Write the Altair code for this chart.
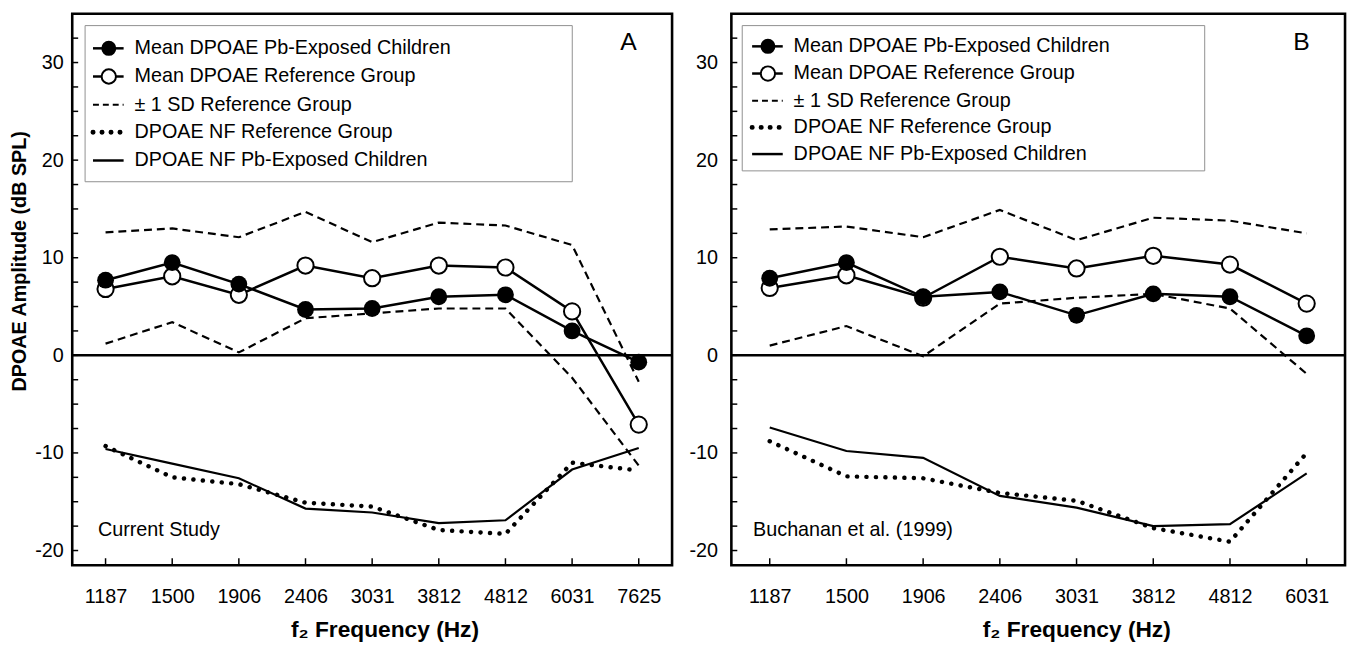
import altair as alt
import pandas as pd

FONT = "Liberation Sans"

# ---------------- data ----------------
freqs_a = ["1187", "1500", "1906", "2406", "3031", "3812", "4812", "6031", "7625"]
pb_mean_a = [7.7, 9.5, 7.3, 4.7, 4.8, 6.0, 6.2, 2.5, -0.7]
ref_mean_a = [6.8, 8.1, 6.2, 9.2, 7.9, 9.2, 9.0, 4.5, -7.1]
sd_upper_a = [12.6, 13.0, 12.1, 14.7, 11.6, 13.6, 13.3, 11.3, -2.7]
sd_lower_a = [1.2, 3.4, 0.3, 3.8, 4.3, 4.8, 4.8, -2.3, -11.3]
nf_ref_a = [-9.3, -12.5, -13.2, -15.1, -15.5, -17.9, -18.3, -11.0, -11.8]
nf_pb_a = [-9.6, -11.1, -12.6, -15.7, -16.1, -17.2, -16.9, -11.7, -9.5]

freqs_b = ["1187", "1500", "1906", "2406", "3031", "3812", "4812", "6031"]
pb_mean_b = [7.9, 9.5, 6.0, 6.5, 4.1, 6.3, 6.0, 2.0]
ref_mean_b = [6.9, 8.2, 5.9, 10.1, 8.9, 10.2, 9.3, 5.3]
sd_upper_b = [12.9, 13.2, 12.1, 14.9, 11.8, 14.1, 13.8, 12.5]
sd_lower_b = [1.0, 3.0, -0.1, 5.3, 5.9, 6.3, 4.8, -1.9]
nf_ref_b = [-8.8, -12.4, -12.6, -14.1, -14.9, -17.7, -19.1, -10.0]
nf_pb_b = [-7.4, -9.8, -10.5, -14.4, -15.6, -17.5, -17.3, -12.1]

y_label_values = [-20, -10, 0, 10, 20, 30]
y_tick_values = [-20, -17.5, -15, -12.5, -10, -7.5, -5, -2.5, 0, 2.5, 5, 7.5,
                 10, 12.5, 15, 17.5, 20, 22.5, 25, 27.5, 30, 32.5]
y_domain = [-21.5, 35]

legend_labels = [
    "Mean DPOAE Pb-Exposed Children",
    "Mean DPOAE Reference Group",
    "± 1 SD Reference Group",
    "DPOAE NF Reference Group",
    "DPOAE NF Pb-Exposed Children",
]

H = 558
DASH = [8, 5]
DOT = [0.1, 9.5]


def legend_layers(box, rows_y):
    one = pd.DataFrame({"k": [0]})
    x0, x1, y0, y1 = box
    layers = [
        alt.Chart(one).mark_rect(fill="white", stroke="#8f8f8f", strokeWidth=1).encode(
            x=alt.value(x0), x2=alt.value(x1), y=alt.value(y0), y2=alt.value(y1)
        )
    ]
    for i, (lab, yy) in enumerate(zip(legend_labels, rows_y)):
        if i == 2:
            kw = dict(strokeDash=[6, 4], strokeWidth=2)
        elif i == 3:
            kw = dict(strokeDash=[0.1, 9], strokeWidth=5, strokeCap="round")
        else:
            kw = dict(strokeWidth=2.5)
        layers.append(
            alt.Chart(one).mark_rule(color="black", **kw).encode(
                x=alt.value(21), x2=alt.value(52), y=alt.value(yy)
            )
        )
        if i == 0:
            layers.append(
                alt.Chart(one).mark_point(shape="circle", filled=True, color="black", size=230, opacity=1).encode(
                    x=alt.value(37), y=alt.value(yy)
                )
            )
        if i == 1:
            layers.append(
                alt.Chart(one).mark_point(shape="circle", filled=True, fill="white", stroke="black",
                                          strokeWidth=2, size=210, opacity=1).encode(
                    x=alt.value(37), y=alt.value(yy)
                )
            )
        layers.append(
            alt.Chart(one).mark_text(text=lab, align="left", baseline="middle", fontSize=20,
                                     font=FONT, color="black").encode(
                x=alt.value(63), y=alt.value(yy)
            )
        )
    return layers


def make_panel(freqs, pb, ref, up, lo, nfr, nfp, W, letter, note, note_x, ytitle,
               label_pad, title_x, box, rows_y):
    df = pd.DataFrame({"f": freqs, "pb": pb, "ref": ref, "up": up, "lo": lo,
                       "nfr": nfr, "nfp": nfp})
    ysc = alt.Scale(domain=y_domain, nice=False, zero=False)
    xsc = alt.Scale(type="point", padding=0.5)

    xax = alt.Axis(labelAngle=0, ticks=False, domain=False, grid=False, labelFontSize=20,
                   labelPadding=22, labelFont=FONT, labelColor="black",
                   title="f₂ Frequency (Hz)", titleFont=FONT, titleFontSize=23,
                   titleFontWeight="bold", titleColor="black", titlePadding=12, titleX=title_x)
    yax = alt.Axis(values=y_label_values, ticks=False, domain=False, grid=False, labelFontSize=20,
                   labelPadding=label_pad, labelFont=FONT, labelColor="black",
                   labelExpr="replace(datum.label, '\u2212', '-')",
                   title=ytitle, titleFont=FONT, titleFontSize=20, titleFontWeight="bold",
                   titleColor="black", titlePadding=5, titleY=250)

    def X():
        return alt.X("f:N", sort=freqs, scale=xsc, axis=xax)

    def Y(field):
        return alt.Y(field, scale=ysc, axis=yax)

    base = alt.Chart(df)

    upper = base.mark_line(color="black", strokeWidth=2.2, strokeDash=DASH).encode(
        x=X(), y=Y("up:Q"))
    zero = alt.Chart(pd.DataFrame({"z": [0]})).mark_rule(color="black", strokeWidth=2.5).encode(
        y=Y("z:Q"))
    yt = alt.Chart(pd.DataFrame({"v": y_tick_values})).mark_rule(color="black", strokeWidth=1.5).encode(
        y=Y("v:Q"), x=alt.value(0), x2=alt.value(6))
    xt = base.mark_rule(color="black", strokeWidth=1.5).encode(
        x=X(), y=alt.value(H - 7), y2=alt.value(H))
    lower = base.mark_line(color="black", strokeWidth=2.2, strokeDash=DASH).encode(
        x=X(), y=Y("lo:Q"))
    nfr_l = base.mark_line(color="black", strokeWidth=4.5, strokeDash=DOT, strokeCap="round").encode(
        x=X(), y=Y("nfr:Q"))
    nfp_l = base.mark_line(color="black", strokeWidth=2.2).encode(
        x=X(), y=Y("nfp:Q"))
    ref_l = base.mark_line(color="black", strokeWidth=2.5).encode(
        x=X(), y=Y("ref:Q"))
    pb_l = base.mark_line(color="black", strokeWidth=2.5).encode(
        x=X(), y=Y("pb:Q"))
    ref_p = base.mark_point(shape="circle", filled=True, fill="white", stroke="black",
                            strokeWidth=2, size=270, opacity=1).encode(
        x=X(), y=Y("ref:Q"))
    pb_p = base.mark_point(shape="circle", filled=True, color="black", size=290, opacity=1).encode(
        x=X(), y=Y("pb:Q"))

    one = pd.DataFrame({"k": [0]})
    letter_t = alt.Chart(one).mark_text(text=letter, fontSize=25, font=FONT, color="black",
                                        align="center", baseline="middle").encode(
        x=alt.value(W - 44), y=alt.value(29))
    note_t = alt.Chart(one).mark_text(text=note, fontSize=20, font=FONT, color="black",
                                      align="left", baseline="middle").encode(
        x=alt.value(note_x), y=alt.value(522))

    layers = ([upper, zero, yt, xt, lower, nfr_l, nfp_l, ref_l, pb_l, ref_p, pb_p]
              + legend_layers(box, rows_y) + [letter_t, note_t])
    return alt.layer(*layers).properties(width=W, height=H)


panel_a = make_panel(freqs_a, pb_mean_a, ref_mean_a, sd_upper_a, sd_lower_a, nf_ref_a, nf_pb_a,
                     607, "A", "Current Study", 26, "DPOAE Amplitude (dB SPL)", 9, 316,
                     (13, 506, 12, 170), [35, 63.5, 92, 120, 148.5])
panel_b = make_panel(freqs_b, pb_mean_b, ref_mean_b, sd_upper_b, sd_lower_b, nf_ref_b, nf_pb_b,
                     621, "B", "Buchanan et al. (1999)", 22, None, 14, 349,
                     (11, 479, 12, 159), [33, 60.5, 88, 115, 142])

chart = alt.hconcat(panel_a, panel_b, spacing=12).configure_view(
    stroke="black", strokeWidth=2.6
).configure_axis(grid=False).properties(padding=0)

chart.save("out.html", embed_options={"renderer": "svg", "actions": False})
